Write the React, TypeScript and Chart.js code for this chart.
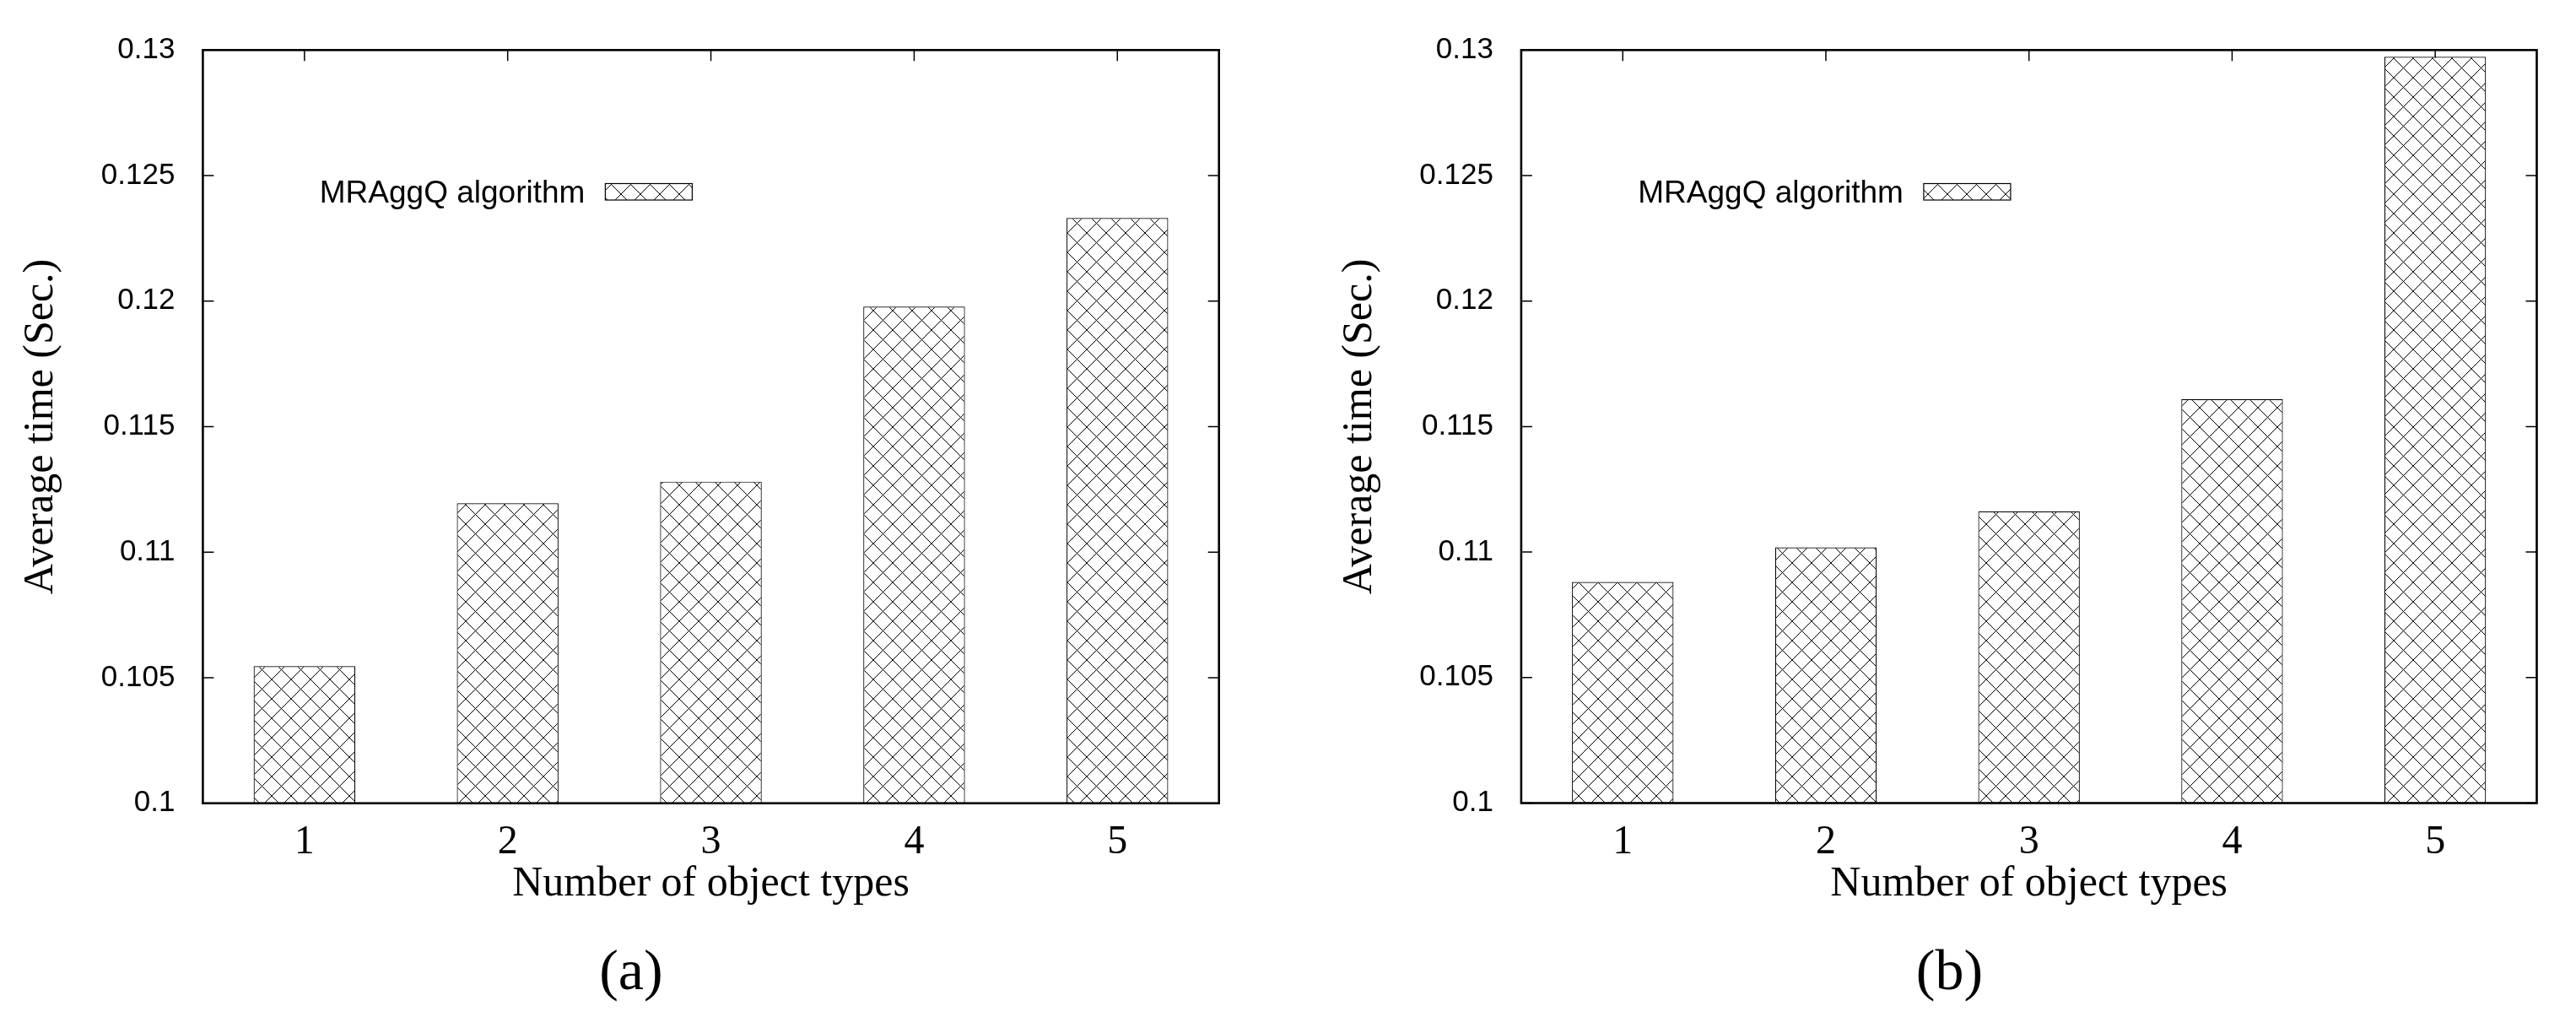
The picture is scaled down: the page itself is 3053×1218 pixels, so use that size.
import React, { useEffect, useRef } from 'react';
import { Chart, registerables } from 'chart.js';

Chart.register(...registerables);

// ---- data ----
const categories = ['1', '2', '3', '4', '5'];
const seriesA = [0.10546, 0.11195, 0.11281, 0.11978, 0.12331];
const seriesB = [0.10881, 0.11019, 0.11162, 0.11609, 0.12973];
const yTicks = [0.1, 0.105, 0.11, 0.115, 0.12, 0.125, 0.13];
const seriesLabel = 'MRAggQ algorithm';
const xTitle = 'Number of object types';
const yTitle = 'Average time (Sec.)';
const captions = ['(a)', '(b)'];

const SANS = "'Liberation Sans', Arial, Helvetica, sans-serif";
const SERIF = "'Liberation Serif', 'Times New Roman', serif";

function makePattern(): CanvasPattern | string {
  const s = 23;
  const c = document.createElement('canvas');
  c.width = s;
  c.height = s;
  const ctx = c.getContext('2d');
  if (!ctx) return '#fff';
  ctx.fillStyle = '#fff';
  ctx.fillRect(0, 0, s, s);
  ctx.strokeStyle = '#000';
  ctx.lineWidth = 1;
  ctx.beginPath();
  ctx.moveTo(-1, -1);
  ctx.lineTo(s + 1, s + 1);
  ctx.moveTo(s + 1, -1);
  ctx.lineTo(-1, s + 1);
  ctx.stroke();
  return ctx.createPattern(c, 'repeat') || '#fff';
}

function framePlugin(caption: string) {
  return {
    id: 'gnuplotFrame',
    beforeDatasetsDraw(chart: any) {
      const { ctx, chartArea } = chart;
      const { left, right, top, bottom } = chartArea;
      const xs = chart.scales.x;
      const ys = chart.scales.y;
      const tl = 13;
      ctx.save();
      ctx.strokeStyle = '#000';
      ctx.lineWidth = 1.5;
      ctx.beginPath();
      ys.ticks.forEach((t: any) => {
        const y = ys.getPixelForValue(t.value);
        ctx.moveTo(left, y);
        ctx.lineTo(left + tl, y);
        ctx.moveTo(right, y);
        ctx.lineTo(right - tl, y);
      });
      categories.forEach((_, i) => {
        const x = xs.getPixelForValue(i);
        ctx.moveTo(x, top);
        ctx.lineTo(x, top + tl);
        ctx.moveTo(x, bottom);
        ctx.lineTo(x, bottom - tl);
      });
      ctx.stroke();
      ctx.restore();
    },
    afterDatasetsDraw(chart: any) {
      const { ctx, chartArea } = chart;
      const { left, right, top, bottom } = chartArea;
      const ds = chart.data.datasets[0];
      ctx.save();
      // frame
      ctx.strokeStyle = '#000';
      ctx.lineWidth = 2.6;
      ctx.strokeRect(left, top, right - left, bottom - top);

      // legend (gnuplot style: text, then sample box)
      const bx = left + 477;
      const by = 217.5;
      const bw = 103;
      const bh = 19.5;
      ctx.fillStyle = ds.backgroundColor;
      ctx.fillRect(bx, by, bw, bh);
      ctx.lineWidth = 1.2;
      ctx.strokeRect(bx, by, bw, bh);
      ctx.fillStyle = '#000';
      ctx.font = `37px ${SANS}`;
      ctx.textAlign = 'right';
      ctx.textBaseline = 'alphabetic';
      ctx.fillText(ds.label, bx - 24, 239.5);

      // x title
      ctx.font = `50px ${SERIF}`;
      ctx.textAlign = 'center';
      ctx.fillText(xTitle, (left + right) / 2, 1061);

      // y title
      ctx.save();
      ctx.translate(left - 178, (top + bottom) / 2);
      ctx.rotate(-Math.PI / 2);
      ctx.textAlign = 'center';
      ctx.textBaseline = 'alphabetic';
      ctx.font = `50px ${SERIF}`;
      ctx.fillText(yTitle, 0, 0);
      ctx.restore();

      // caption
      ctx.font = `68px ${SERIF}`;
      ctx.textAlign = 'center';
      ctx.fillText(caption, left + 507.5, 1172);
      ctx.restore();
    },
  };
}

function makeChart(
  canvas: HTMLCanvasElement,
  values: number[],
  pad: { left: number; right: number; top: number; bottom: number },
  caption: string
) {
  const pattern = makePattern();
  return new Chart(canvas, {
    type: 'bar',
    data: {
      labels: categories,
      datasets: [
        {
          label: seriesLabel,
          data: values,
          backgroundColor: pattern as any,
          borderColor: '#000',
          borderWidth: 1.2,
          barPercentage: 0.5,
          categoryPercentage: 1,
          base: 0.1,
        } as any,
      ],
    },
    options: {
      responsive: false,
      animation: false,
      devicePixelRatio: 1,
      layout: { padding: pad },
      plugins: {
        legend: { display: false },
        tooltip: { enabled: false },
        title: { display: false },
      },
      scales: {
        x: {
          offset: true,
          grid: { display: false },
          border: { display: false },
          ticks: {
            color: '#000',
            font: { family: SERIF, size: 48 },
            padding: 10,
            maxRotation: 0,
          },
          afterFit: (s: any) => {
            s.height = 120;
          },
        },
        y: {
          min: 0.1,
          max: 0.13,
          grid: { display: false },
          border: { display: false },
          ticks: {
            color: '#000',
            font: { family: SANS, size: 35 },
            padding: 25,
            callback: (v: any) => String(Number(Number(v).toFixed(3))),
          },
          afterBuildTicks: (s: any) => {
            s.ticks = yTicks.map((v) => ({ value: v }));
          },
          afterFit: (s: any) => {
            s.width = 130;
          },
        },
      },
    } as any,
    plugins: [framePlugin(caption)],
  });
}

export default function App() {
  const refA = useRef<HTMLCanvasElement>(null);
  const refB = useRef<HTMLCanvasElement>(null);

  useEffect(() => {
    if (!refA.current || !refB.current) return;
    const a = makeChart(refA.current, seriesA, { left: 110.4, right: 81.3, top: 59.3, bottom: 146.3 }, captions[0]);
    const b = makeChart(refB.current, seriesB, { left: 146.9, right: 46.5, top: 59.3, bottom: 146.5 }, captions[1]);
    return () => {
      a.destroy();
      b.destroy();
    };
  }, []);

  return (
    <div style={{ position: 'absolute', left: 0, top: 0, width: 3053, height: 1218, background: '#fff', overflow: 'hidden' }}>
      <canvas ref={refA} width={1526} height={1218} style={{ position: 'absolute', left: 0, top: 0, width: 1526, height: 1218 }} />
      <canvas ref={refB} width={1527} height={1218} style={{ position: 'absolute', left: 1526, top: 0, width: 1527, height: 1218 }} />
    </div>
  );
}
